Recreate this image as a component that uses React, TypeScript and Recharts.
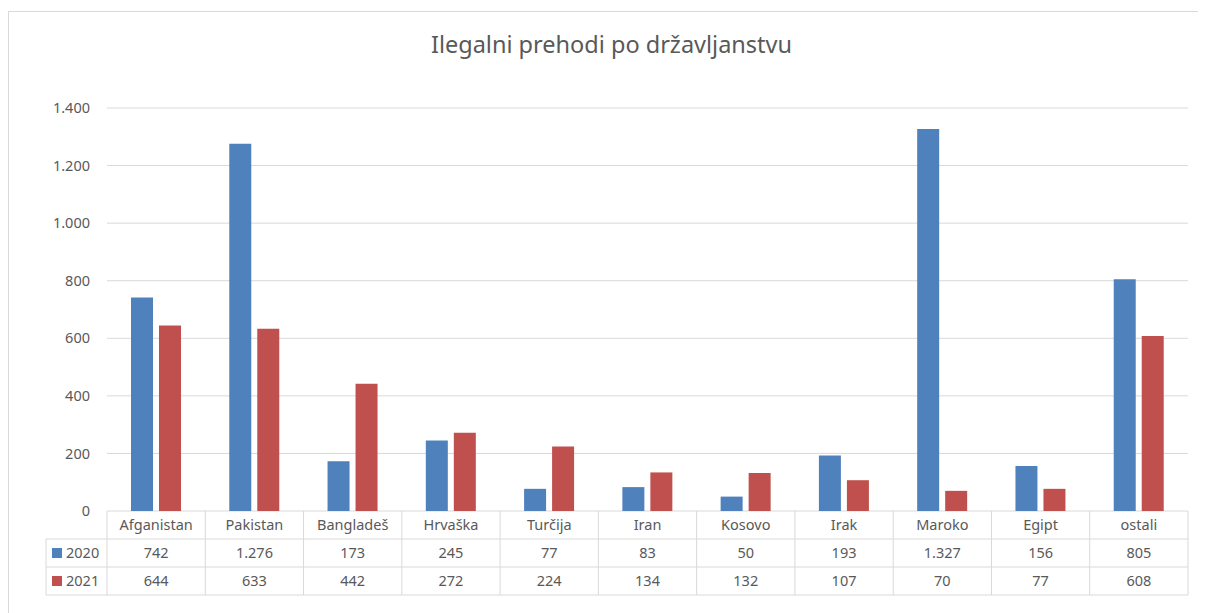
import { BarChart, Bar, XAxis, YAxis, CartesianGrid } from "recharts";

const categories = [
  "Afganistan",
  "Pakistan",
  "Bangladeš",
  "Hrvaška",
  "Turčija",
  "Iran",
  "Kosovo",
  "Irak",
  "Maroko",
  "Egipt",
  "ostali",
];
const values2020 = [742, 1276, 173, 245, 77, 83, 50, 193, 1327, 156, 805];
const values2021 = [644, 633, 442, 272, 224, 134, 132, 107, 70, 77, 608];
const yTicks = [0, 200, 400, 600, 800, 1000, 1200, 1400];

const BLUE = "#4F81BD";
const RED = "#C0504D";
const TEXT = "#595959";
const LINE = "#d9d9d9";
const FONT = "'Noto Sans', sans-serif";

const CHART_W = 1193;
const CHART_H = 600;
const MARGIN = { top: 96, right: 14, left: 38, bottom: 17 };
const Y_W = 60;
const ROW = 28;
const LEGEND_W = 61;
const BAND = (CHART_W - MARGIN.left - MARGIN.right - Y_W) / categories.length;

const data = categories.map((name, i) => ({
  name,
  y2020: values2020[i],
  y2021: values2021[i],
}));

// 1276 -> "1.276"
const fmt = (v: number) => String(v).replace(/\B(?=(\d{3})+(?!\d))/g, ".");

const TableTick = (props: any) => {
  const { x, y, payload, index } = props;
  const left = x - BAND / 2;
  const right = x + BAND / 2;
  const row = data[index];
  return (
    <g>
      <line x1={left} y1={y} x2={left} y2={y + ROW * 3} stroke={LINE} />
      {index === categories.length - 1 && (
        <line x1={right} y1={y} x2={right} y2={y + ROW * 3} stroke={LINE} />
      )}
      {[1, 2, 3].map((r) => (
        <line key={r} x1={left} y1={y + ROW * r} x2={right} y2={y + ROW * r} stroke={LINE} />
      ))}
      <text x={x} y={y + 19} textAnchor="middle" fill={TEXT} fontSize={14.5} fontFamily={FONT}>
        {payload.value}
      </text>
      <text x={x} y={y + ROW + 19} textAnchor="middle" fill={TEXT} fontSize={14.5} fontFamily={FONT}>
        {fmt(row.y2020)}
      </text>
      <text x={x} y={y + ROW * 2 + 19} textAnchor="middle" fill={TEXT} fontSize={14.5} fontFamily={FONT}>
        {fmt(row.y2021)}
      </text>
      {index === 0 && (
        <g>
          <line x1={left - LEGEND_W} y1={y + ROW} x2={left - LEGEND_W} y2={y + ROW * 3} stroke={LINE} />
          {[1, 2, 3].map((r) => (
            <line
              key={r}
              x1={left - LEGEND_W}
              y1={y + ROW * r}
              x2={left}
              y2={y + ROW * r}
              stroke={LINE}
            />
          ))}
          <rect x={left - LEGEND_W + 6} y={y + ROW + 9} width={10} height={10} fill={BLUE} />
          <text x={left - LEGEND_W + 20} y={y + ROW + 19} fill={TEXT} fontSize={14.5} fontFamily={FONT}>
            2020
          </text>
          <rect x={left - LEGEND_W + 6} y={y + ROW * 2 + 9} width={10} height={10} fill={RED} />
          <text x={left - LEGEND_W + 20} y={y + ROW * 2 + 19} fill={TEXT} fontSize={14.5} fontFamily={FONT}>
            2021
          </text>
        </g>
      )}
    </g>
  );
};

export default function App() {
  return (
    <div
      style={{
        position: "relative",
        marginTop: 3,
        width: CHART_W + 2,
        height: 620,
        border: `1px solid ${LINE}`,
        background: "#fff",
      }}
    >
      <div
        style={{
          position: "absolute",
          top: 16,
          left: 6,
          width: CHART_W,
          textAlign: "center",
          fontFamily: FONT,
          fontSize: 23.5,
          color: TEXT,
        }}
      >
        Ilegalni prehodi po državljanstvu
      </div>
      <BarChart
        width={CHART_W}
        height={CHART_H}
        data={data}
        margin={MARGIN}
        barCategoryGap={24}
        barGap={6}
      >
        <CartesianGrid vertical={false} stroke={LINE} />
        <XAxis
          dataKey="name"
          axisLine={false}
          tickLine={false}
          tickSize={0}
          tickMargin={0}
          height={ROW * 3}
          interval={0}
          tick={<TableTick />}
        />
        <YAxis
          width={Y_W}
          domain={[0, 1400]}
          ticks={yTicks}
          tickFormatter={fmt}
          axisLine={false}
          tickLine={false}
          tickMargin={11}
          tick={{ fill: TEXT, fontSize: 14.5, fontFamily: FONT }}
        />
        <Bar dataKey="y2020" fill={BLUE} isAnimationActive={false} />
        <Bar dataKey="y2021" fill={RED} isAnimationActive={false} />
      </BarChart>
    </div>
  );
}
